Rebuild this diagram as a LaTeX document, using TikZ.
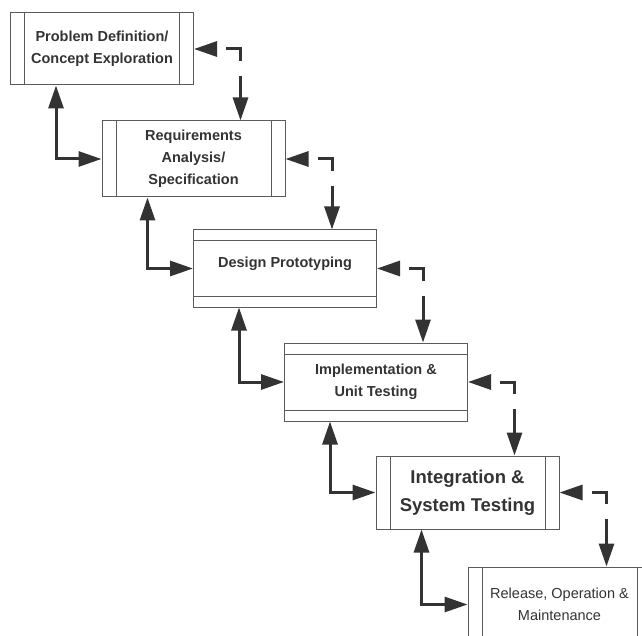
\documentclass[tikz,border=0pt]{standalone}
\usepackage{fontspec}
\setmainfont{Liberation Sans}
\definecolor{inkgrey}{HTML}{333333}
\definecolor{rulegrey}{HTML}{5A5A5A}
\usetikzlibrary{arrows.meta,calc}
\tikzset{
  stage/.style={rectangle, draw=rulegrey, line width=1pt, text=inkgrey,
    minimum width=183pt, align=center, inner sep=2pt,
    font=\fontsize{14.5}{22}\selectfont\bfseries},
  sidebars/.style={stage, path picture={
    \draw[rulegrey, line width=1pt]
      ([xshift=14pt]path picture bounding box.north west) --
      ([xshift=14pt]path picture bounding box.south west)
      ([xshift=-14pt]path picture bounding box.north east) --
      ([xshift=-14pt]path picture bounding box.south east);}},
  topbars/.style={stage, path picture={
    \draw[rulegrey, line width=1pt]
      ([yshift=-11pt]path picture bounding box.north west) --
      ([yshift=-11pt]path picture bounding box.north east)
      ([yshift=11pt]path picture bounding box.south west) --
      ([yshift=11pt]path picture bounding box.south east);}},
  backflow/.style={draw=inkgrey, line width=3pt,
    {Triangle[length=23pt,width=15pt]}-{Triangle[length=23pt,width=15pt]}},
  forthflow/.style={backflow, dash pattern=on 26pt off 15pt, dash phase=31pt}
}

\begin{document}
\begin{tikzpicture}[x=1pt, y=-1pt]
  \useasboundingbox (0,0) rectangle (642,636);
  \clip (0,0) rectangle (642,636);

  % the six stages, stepping down to the right
  \node[sidebars, minimum height=72pt] (define) at (102,49)
    {Problem Definition/\\Concept Exploration};
  \node[sidebars, minimum height=76pt] (reqs) at (193.5,159)
    {Requirements\\Analysis/\\Specification};
  \node[topbars, minimum height=77pt] (proto) at (285,268.5)
    {\raisebox{5pt}[\height][\depth]{Design Prototyping}};
  \node[topbars, minimum height=78pt] (impl) at (376,382)
    {Implementation \&\\Unit Testing};
  \node[sidebars, minimum height=73pt,
    font=\fontsize{18.5}{28}\selectfont\bfseries] (integ) at (467.5,492.5)
    {Integration \&\\System Testing};
  \node[sidebars, minimum height=75pt,
    font=\fontsize{14.5}{22}\selectfont] (release) at (559.5,604.5)
    {Release, Operation \&\\Maintenance};

  % dashed links on the right
  \draw[forthflow] (define.east) -| ([xshift=-45pt]reqs.north east);
  \draw[forthflow] (reqs.east) -| ([xshift=-45pt]proto.north east);
  \draw[forthflow] (proto.east) -| ([xshift=-45pt]impl.north east);
  \draw[forthflow] (impl.east) -| ([xshift=-45pt]integ.north east);
  \draw[forthflow] (integ.east) -| ([xshift=-45pt]release.north east);

  % solid links on the left
  \draw[backflow] ([xshift=46pt]define.south west) |- (reqs.west);
  \draw[backflow] ([xshift=46pt]reqs.south west) |- (proto.west);
  \draw[backflow] ([xshift=46pt]proto.south west) |- (impl.west);
  \draw[backflow] ([xshift=46pt]impl.south west) |- (integ.west);
  \draw[backflow] ([xshift=46pt]integ.south west) |- (release.west);
\end{tikzpicture}
\end{document}
